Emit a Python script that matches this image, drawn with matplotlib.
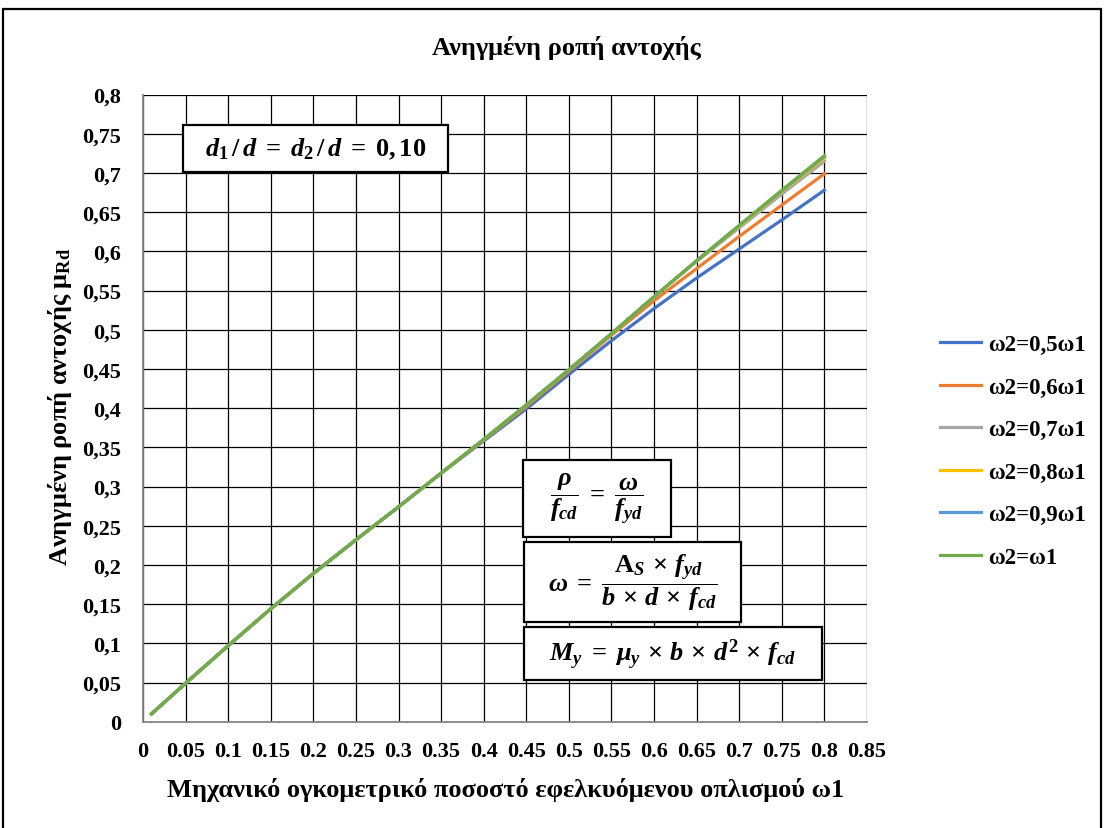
import matplotlib
matplotlib.use('Agg')
import matplotlib.pyplot as plt
from matplotlib.patches import Rectangle

plt.rcParams['font.family'] = ['Liberation Serif', 'DejaVu Serif']
plt.rcParams['font.weight'] = 'bold'
plt.rcParams['mathtext.fontset'] = 'custom'
plt.rcParams['mathtext.rm'] = 'Liberation Serif:bold'
plt.rcParams['mathtext.it'] = 'Liberation Serif:bold:italic'
plt.rcParams['mathtext.bf'] = 'Liberation Serif:bold'

# mechanical reinforcement ratio of the tension steel
omega1 = [0.01, 0.05, 0.10, 0.15, 0.20, 0.25, 0.30, 0.35, 0.40,
          0.45, 0.50, 0.55, 0.60, 0.65, 0.70, 0.75, 0.80]

# reduced moment resistance mu_Rd for each compression/tension ratio
mu_05 = [0.010, 0.049, 0.097, 0.144, 0.189, 0.232, 0.274, 0.317, 0.358,
         0.399, 0.443, 0.486, 0.527, 0.566, 0.603, 0.640, 0.678]
mu_06 = [0.010, 0.049, 0.097, 0.144, 0.189, 0.232, 0.274, 0.317, 0.359,
         0.402, 0.447, 0.493, 0.537, 0.578, 0.619, 0.659, 0.699]
mu_07 = [0.010, 0.049, 0.097, 0.144, 0.189, 0.232, 0.274, 0.317, 0.360,
         0.404, 0.449, 0.495, 0.542, 0.587, 0.630, 0.673, 0.715]
mu_08 = [0.010, 0.049, 0.097, 0.144, 0.189, 0.232, 0.274, 0.317, 0.360,
         0.404, 0.449, 0.495, 0.542, 0.588, 0.632, 0.676, 0.719]
mu_09 = [0.010, 0.049, 0.097, 0.144, 0.189, 0.232, 0.274, 0.317, 0.360,
         0.404, 0.449, 0.495, 0.542, 0.588, 0.633, 0.677, 0.721]
mu_10 = [0.010, 0.049, 0.097, 0.144, 0.189, 0.232, 0.274, 0.317, 0.360,
         0.404, 0.449, 0.495, 0.542, 0.588, 0.633, 0.678, 0.722]

series = [
    ('ω2=0,5ω1', mu_05, '#4472C4'),
    ('ω2=0,6ω1', mu_06, '#ED7D31'),
    ('ω2=0,7ω1', mu_07, '#A5A5A5'),
    ('ω2=0,8ω1', mu_08, '#FFC000'),
    ('ω2=0,9ω1', mu_09, '#5B9BD5'),
    ('ω2=ω1', mu_10, '#70AD47'),
]

x_ticks = [i * 0.05 for i in range(18)]
x_labels = ['0', '0.05', '0.1', '0.15', '0.2', '0.25', '0.3', '0.35', '0.4',
            '0.45', '0.5', '0.55', '0.6', '0.65', '0.7', '0.75', '0.8', '0.85']
y_ticks = [i * 0.05 for i in range(17)]
y_labels = ['0', '0,05', '0,1', '0,15', '0,2', '0,25', '0,3', '0,35', '0,4',
            '0,45', '0,5', '0,55', '0,6', '0,65', '0,7', '0,75', '0,8']

W, H = 1105, 829
fig = plt.figure(figsize=(W / 100, H / 100), dpi=100)
ax = fig.add_axes([143 / W, 1 - 722.7 / H, (867 - 143) / W, (722.7 - 95.5) / H])

for label, mu, color in series:
    ax.plot(omega1, mu, color=color, lw=2.3, label=label)

ax.set_xlim(0, 0.85)
ax.set_ylim(0, 0.8)
ax.set_xticks(x_ticks, x_labels)
ax.set_yticks(y_ticks, y_labels)
ax.tick_params(length=0, labelsize=16)
ax.tick_params(axis='y', pad=16)
ax.tick_params(axis='x', pad=14)
for t in ax.get_xticklabels() + ax.get_yticklabels():
    t.set_fontweight('bold')
ax.grid(True, color='black', lw=0.9)
ax.set_axisbelow(True)
for side in ['top', 'right']:
    ax.spines[side].set_visible(False)
for side in ['left', 'bottom']:
    ax.spines[side].set_color('#868686')
    ax.spines[side].set_linewidth(1.3)

fig.text(566 / W, 1 - 48 / H, 'Ανηγμένη ροπή αντοχής', ha='center', va='center',
         fontsize=19, fontweight='bold')
fig.text(506 / W, 1 - 790 / H, 'Μηχανικό ογκομετρικό ποσοστό εφελκυόμενου οπλισμού ω1',
         ha='center', va='center', fontsize=19, fontweight='bold')
fig.text(60 / W, 1 - 407 / H, r'Ανηγμένη ροπή αντοχής μ$_{\mathrm{Rd}}$', rotation=90,
         ha='center', va='center', fontsize=19, fontweight='bold')

# formula boxes drawn in pixel coordinates of the figure
def formula_box(x0, y0, x1, y1, text, size):
    fig.patches.append(Rectangle((x0 / W, 1 - y1 / H), (x1 - x0) / W, (y1 - y0) / H,
                                 transform=fig.transFigure, facecolor='white',
                                 edgecolor='black', lw=1.6, zorder=5))
    fig.text((x0 + x1) / 2 / W, 1 - (y0 + y1) / 2 / H, text, ha='center', va='center',
             fontsize=size, zorder=6)

formula_box(183, 126, 448, 173, r'$d_1\,/\,d\;=\;d_2\,/\,d\;=\;0,10$', 19)
formula_box(523, 461, 671, 538, r'$\dfrac{\rho}{f_{cd}}\;=\;\dfrac{\omega}{f_{yd}}$', 19)
formula_box(524, 543, 741, 623,
            r'$\omega\;=\;\dfrac{\mathrm{A}_S\,\times\,f_{yd}}{b\,\times\,d\,\times\,f_{cd}}$', 19)
formula_box(524, 628, 822, 681,
            r'$M_y\;=\;\mu_y\,\times\,b\,\times\,d^2\,\times\,f_{cd}$', 19)

fig.legend(loc='center left', bbox_to_anchor=(940 / W, 1 - 452 / H), frameon=False,
           borderpad=0, borderaxespad=0,
           handlelength=1.8, handletextpad=0.28, labelspacing=0.94,
           prop={'family': 'Liberation Serif', 'weight': 'bold', 'size': 16.5})

# outer chart border
fig.patches.append(Rectangle((3 / W, -0.05), (1101 - 3) / W, 1.05 - 10 / H,
                             transform=fig.transFigure, fill=False,
                             edgecolor='black', lw=1.6))

fig.savefig('out.png', dpi=100)
